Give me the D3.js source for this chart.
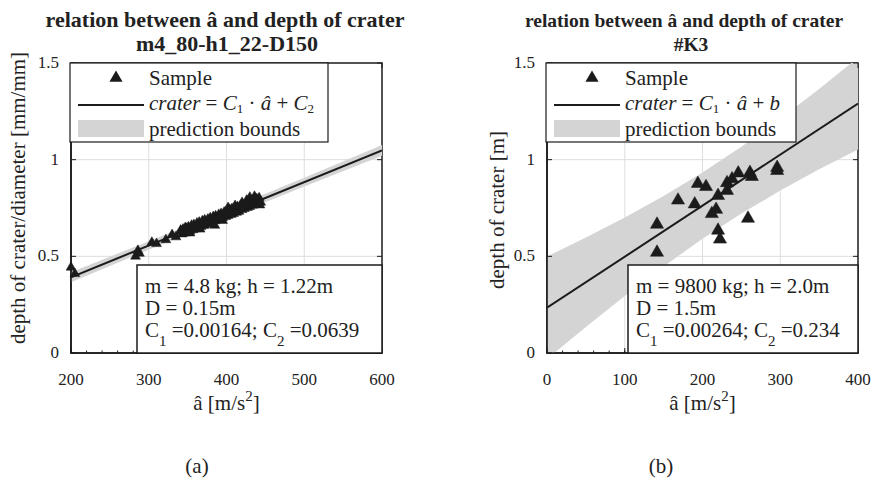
<!DOCTYPE html>
<html><head><meta charset="utf-8">
<script src="https://cdn.jsdelivr.net/npm/d3@7/dist/d3.min.js"></script>
<style>
body{margin:0;background:#fff}
svg{display:block}
text{font-family:"Liberation Serif","Times New Roman",serif;fill:#222}
</style>
</head><body>
<svg id="c" width="887" height="479"></svg>
<script>
// ---------- data ----------
const yTickVals = [0, 0.5, 1, 1.5];
const yTickLabels = ["0", "0.5", "1", "1.5"];

// panel (a)
const titleA = ["relation between â and depth of crater", "m4_80-h1_22-D150"];
const xTicksA = [200, 300, 400, 500, 600];
const accA = [200,205,283,286,288,304,310,322,330,335,
  341,344,348,351,355,358,362,365,369,372,376,379,383,386,390,393,397,400,404,407,411,414,418,421,425,428,432,435,439,442,
  343,346,350,353,357,360,364,367,371,374,378,381,385,388,392,395,399,402,406,409,413,416,420,423,427,430,434,437,441,444,
  347,353,366,385,395,402,411,420,426,430,436,443];
const depthA = [0.443,0.41,0.50,0.53,0.515,0.572,0.565,0.585,0.612,0.60,
  0.635,0.640,0.645,0.652,0.660,0.664,0.672,0.676,0.683,0.688,0.692,0.699,0.705,0.709,0.716,0.721,0.728,0.734,0.742,0.746,0.752,0.757,0.763,0.768,0.775,0.781,0.788,0.793,0.797,0.802,
  0.615,0.620,0.626,0.630,0.637,0.642,0.648,0.653,0.659,0.664,0.671,0.676,0.683,0.688,0.693,0.699,0.705,0.711,0.716,0.721,0.727,0.732,0.741,0.746,0.752,0.757,0.764,0.769,0.774,0.779,
  0.648,0.62,0.64,0.66,0.685,0.752,0.762,0.778,0.79,0.805,0.81,0.765];
const fitA = {c1: 0.00164, c2: 0.0639};
const bandXA = [200, 300, 400, 500, 600];
const bandLoA = [0.366, 0.534, 0.699, 0.861, 1.020];
const bandHiA = [0.418, 0.578, 0.741, 0.907, 1.076];
const notesA = ["m = 4.8 kg; h = 1.22m", "D = 0.15m", ["0.00164", "0.0639"]];

// panel (b)
const titleB = ["relation between â and depth of crater", "#K3"];
const xTicksB = [0, 100, 200, 300, 400];
const accB = [141.5,141.5,168.5,190,194,204.5,220,217.5,212,220,222.5,231.5,238,246,261,263.5,231.5,258.5,296,296];
const depthB = [0.665,0.52,0.79,0.77,0.876,0.86,0.814,0.742,0.72,0.634,0.588,0.88,0.90,0.93,0.933,0.912,0.84,0.696,0.959,0.943];
const fitB = {c1: 0.00264, c2: 0.234};
const bandXB = [0, 50, 100, 150, 200, 250, 300, 350, 400];
const bandLoB = [-0.031, 0.134, 0.295, 0.448, 0.591, 0.721, 0.840, 0.950, 1.052];
const bandHiB = [0.499, 0.598, 0.701, 0.812, 0.933, 1.067, 1.212, 1.366, 1.528];
const notesB = ["m = 9800 kg; h = 2.0m", "D = 1.5m", ["0.00264", "0.234"]];

// ---------- drawing ----------
const svg = d3.select("#c");
const DARK = "#1b1b1b", BAND = "#d4d4d4", GRID = "#dedede";

function panel(o) {
  const g = svg.append("g");
  const x = d3.scaleLinear().domain(o.xDomain).range([o.left, o.right]);
  const y = d3.scaleLinear().domain([0, 1.5]).range([353, 63]);
  const cid = "clip" + o.id;
  svg.append("clipPath").attr("id", cid).append("rect")
    .attr("x", o.left).attr("y", 63).attr("width", o.right - o.left).attr("height", 290);

  // grid
  g.append("g").selectAll("line").data(o.xTicks.slice(1, -1)).join("line")
    .attr("x1", d => x(d)).attr("x2", d => x(d)).attr("y1", 63).attr("y2", 353)
    .attr("stroke", GRID).attr("stroke-width", 1);
  g.append("g").selectAll("line").data(yTickVals.slice(1, -1)).join("line")
    .attr("x1", o.left).attr("x2", o.right).attr("y1", d => y(d)).attr("y2", d => y(d))
    .attr("stroke", GRID).attr("stroke-width", 1);

  // axes box
  g.append("rect").attr("x", o.left).attr("y", 63).attr("width", o.right - o.left).attr("height", 290)
    .attr("fill", "none").attr("stroke", DARK).attr("stroke-width", 1.5);

  const inner = g.append("g").attr("clip-path", `url(#${cid})`);
  // band
  const bandData = o.bandX.map((v, i) => ({x: v, lo: o.bandLo[i], hi: o.bandHi[i]}));
  inner.append("path").datum(bandData)
    .attr("d", d3.area().x(d => x(d.x)).y0(d => y(d.lo)).y1(d => y(d.hi)))
    .attr("fill", BAND);
  // fit line
  inner.append("path").datum(o.xDomain)
    .attr("d", d3.line().x(d => x(d)).y(d => y(o.fit.c1 * d + o.fit.c2)))
    .attr("stroke", DARK).attr("stroke-width", 2).attr("fill", "none");
  // points
  const sym = d3.symbol().type(d3.symbolTriangle).size(o.mSize);
  g.append("g").selectAll("path").data(o.acc).join("path")
    .attr("transform", (d, i) => `translate(${x(d)},${y(o.depth[i])})`)
    .attr("d", sym).attr("fill", DARK).attr("stroke", DARK).attr("stroke-width", 0.5);

  // left & bottom axis lines on top
  g.append("path").attr("d", `M${o.left},63V353H${o.right}`)
    .attr("fill", "none").attr("stroke", DARK).attr("stroke-width", 1.6);
  // ticks
  const tk = g.append("g").attr("stroke", DARK).attr("stroke-width", 1);
  o.xTicks.forEach(t => {
    tk.append("line").attr("x1", x(t)).attr("x2", x(t)).attr("y1", 353).attr("y2", 348);
    tk.append("line").attr("x1", x(t)).attr("x2", x(t)).attr("y1", 63).attr("y2", 68);
  });
  d3.range(o.xDomain[0], o.xDomain[1], (o.xTicks[1] - o.xTicks[0]) / 5).forEach(t => {
    tk.append("line").attr("x1", x(t)).attr("x2", x(t)).attr("y1", 353).attr("y2", 350.5);
  });
  yTickVals.forEach(t => {
    tk.append("line").attr("x1", o.left).attr("x2", o.left + 5).attr("y1", y(t)).attr("y2", y(t));
    tk.append("line").attr("x1", o.right).attr("x2", o.right - 5).attr("y1", y(t)).attr("y2", y(t));
  });

  // tick labels
  g.append("g").selectAll("text").data(o.xTicks).join("text")
    .attr("x", d => x(d)).attr("y", 385).attr("text-anchor", "middle")
    .attr("font-size", 17).text(d => d);
  g.append("g").selectAll("text").data(yTickVals).join("text")
    .attr("x", o.left - 12).attr("y", d => y(d) + 5).attr("text-anchor", "end")
    .attr("font-size", 17).text((d, i) => yTickLabels[i]);

  // legend
  const lg = g.append("g");
  const lx = o.left - 1, lw = o.legendW;
  lg.append("rect").attr("x", lx).attr("y", 63).attr("width", lw).attr("height", 79)
    .attr("fill", "#fff").attr("stroke", DARK).attr("stroke-width", 1.2);
  lg.append("path").attr("d", d3.symbol().type(d3.symbolTriangle).size(75)())
    .attr("transform", `translate(${lx + 46},${78})`).attr("fill", DARK);
  lg.append("line").attr("x1", lx + 8).attr("x2", lx + 74).attr("y1", 105).attr("y2", 105)
    .attr("stroke", DARK).attr("stroke-width", 2);
  lg.append("rect").attr("x", lx + 8).attr("y", 120).attr("width", 66).attr("height", 17).attr("fill", BAND);
  const tx = lx + 79;
  const fs = 21;
  lg.append("text").attr("x", tx).attr("y", 85).attr("font-size", fs).text("Sample");
  const eq = lg.append("text").attr("x", tx).attr("y", 110).attr("font-size", fs);
  eq.append("tspan").attr("font-style", "italic").text("crater");
  eq.append("tspan").text(" = ");
  eq.append("tspan").attr("font-style", "italic").text("C");
  eq.append("tspan").attr("font-size", 13).attr("dy", 3).text("1");
  eq.append("tspan").attr("dy", -3).text(" · ");
  eq.append("tspan").attr("font-style", "italic").text("â");
  eq.append("tspan").text(" + ");
  if (o.eqLast === "C2") {
    eq.append("tspan").attr("font-style", "italic").text("C");
    eq.append("tspan").attr("font-size", 13).attr("dy", 3).text("2");
  } else {
    eq.append("tspan").attr("font-style", "italic").text("b");
  }
  lg.append("text").attr("x", tx).attr("y", 136).attr("font-size", fs).text("prediction bounds");

  // annotation box
  const ag = g.append("g");
  ag.append("rect").attr("x", o.noteX).attr("y", 265).attr("width", o.right - o.noteX).attr("height", 88)
    .attr("fill", "#fff").attr("stroke", DARK).attr("stroke-width", 1.5);
  const nx = o.noteX + 8;
  ag.append("text").attr("x", nx).attr("y", 293).attr("font-size", 21).text(o.notes[0]);
  ag.append("text").attr("x", nx).attr("y", 315).attr("font-size", 21).text(o.notes[1]);
  const c = ag.append("text").attr("x", nx).attr("y", 337).attr("font-size", 21);
  c.append("tspan").text("C");
  c.append("tspan").attr("font-size", 15).attr("dy", 9).text("1");
  c.append("tspan").attr("dy", -9).text(" =" + o.notes[2][0] + "; C");
  c.append("tspan").attr("font-size", 15).attr("dy", 9).text("2");
  c.append("tspan").attr("dy", -9).text(" =" + o.notes[2][1]);

  // titles
  g.append("text").attr("x", o.titleX).attr("y", 27).attr("text-anchor", "middle")
    .attr("font-size", o.titleSize).attr("font-weight", "bold").text(o.title[0]);
  g.append("text").attr("x", o.titleX + o.title2dx).attr("y", 51).attr("text-anchor", "middle")
    .attr("font-size", o.titleSize).attr("font-weight", "bold").text(o.title[1]);

  // axis labels
  const cx = (o.left + o.right) / 2;
  const xl = g.append("text").attr("x", cx).attr("y", 410).attr("text-anchor", "middle").attr("font-size", 21);
  xl.append("tspan").text("â [m/s");
  xl.append("tspan").attr("font-size", 15).attr("dy", -9).text("2");
  xl.append("tspan").attr("dy", 9).text("]");
  g.append("text").attr("transform", `translate(${o.yLabelX},${o.yLabelY}) rotate(-90)`)
    .attr("text-anchor", "middle").attr("font-size", 21).text(o.yLabel);
  g.append("text").attr("x", o.capX).attr("y", 473).attr("text-anchor", "middle")
    .attr("font-size", 21).text(o.caption);
}

panel({id: "a", left: 71, right: 382, xDomain: [200, 600], xTicks: xTicksA,
  acc: accA, depth: depthA, fit: fitA, bandX: bandXA, bandLo: bandLoA, bandHi: bandHiA,
  mSize: 42, legendW: 258, eqLast: "C2", noteX: 137, notes: notesA, title: titleA,
  titleX: 225, title2dx: 2, titleSize: 22,
  yLabel: "depth of crater/diameter [mm/mm]", yLabelX: 25, yLabelY: 198, capX: 197, caption: "(a)"});
panel({id: "b", left: 547, right: 858, xDomain: [0, 400], xTicks: xTicksB,
  acc: accB, depth: depthB, fit: fitB, bandX: bandXB, bandLo: bandLoB, bandHi: bandHiB,
  mSize: 75, legendW: 250, eqLast: "b", noteX: 628, notes: notesB, title: titleB,
  titleX: 684, title2dx: 7, titleSize: 19.5,
  yLabel: "depth of crater [m]", yLabelX: 504, yLabelY: 210, capX: 661, caption: "(b)"});
</script>
</body></html>
